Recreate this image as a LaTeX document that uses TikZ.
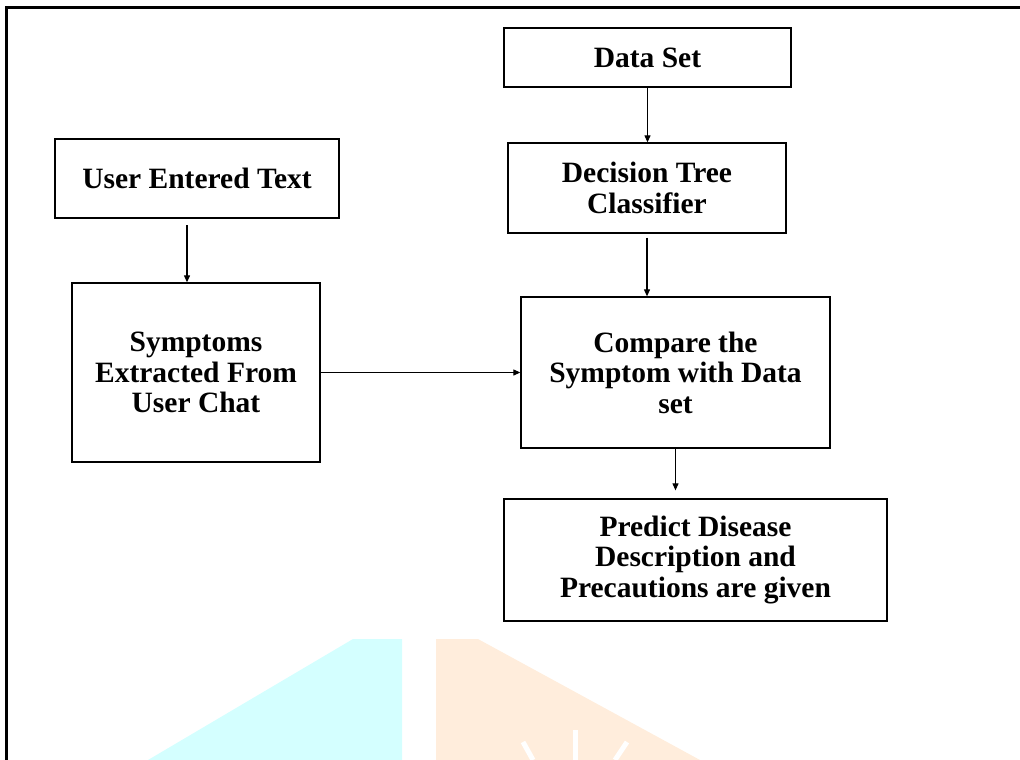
\documentclass[tikz,border=0pt]{standalone}
\usepackage{fontspec}
\setmainfont{Liberation Serif}
\usetikzlibrary{arrows.meta}
\definecolor{wmcyan}{RGB}{212,255,255}
\definecolor{wmpeach}{RGB}{255,237,220}
\begin{document}
\begin{tikzpicture}[x=1pt,y=-1pt,
		box/.style={draw,line width=1.3pt,align=center,inner sep=0pt,font=\bfseries\fontsize{29.5}{30.5}\selectfont},
		flow/.style={line width=1.1pt,-{Triangle[length=7pt,width=6pt]}}]
		\useasboundingbox (0,0) rectangle (1020,760);
		% watermark
		\fill[wmcyan](148,760)--(353,639)--(402,639)--(402,760)--cycle;
		\fill[wmpeach](436,760)--(436,639)--(478,639)--(700,760)--cycle;
		\draw[white,line width=5pt](575,730)--(575,760);
		\draw[white,line width=5pt](523,742)--(533,760);
		\draw[white,line width=5pt](627,742)--(615,760);
		% frame
		\draw[line width=3pt](6,760)--(6,8)--(1020,8);
		% boxes
		\node[box,minimum width=287pt,minimum height=59pt](data) at (647.5,57.5){Data Set};
		\node[box,minimum width=278pt,minimum height=90pt](tree) at (647,188){Decision Tree\\Classifier};
		\node[box,minimum width=284pt,minimum height=79pt](user) at (197,178.5){User Entered Text};
		\node[box,minimum width=248pt,minimum height=179pt](symp) at (196,372.5){Symptoms\\Extracted From\\User Chat};
		\node[box,minimum width=309pt,minimum height=151pt](comp) at (675.5,372.5){Compare the\\Symptom with Data\\set};
		\node[box,minimum width=383pt,minimum height=122pt](pred) at (695.5,560){Predict Disease\\Description and\\Precautions are given};
		\coordinate (u1) at (187,218);
		% arrows
		\draw[flow](data.south)--(data.south |- tree.north);
		\draw[flow,shorten <=4pt](tree.south)--(tree.south |- comp.north);
		\draw[flow,shorten <=7pt](u1)--(u1 |- symp.north);
		\draw[flow](symp.east)--(comp.west);
		\draw[flow,shorten >=8pt](comp.south)--(comp.south |- pred.north);
\end{tikzpicture}
\end{document}
